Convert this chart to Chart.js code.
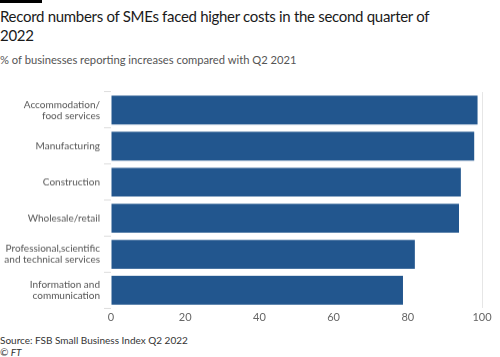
<!DOCTYPE html>
<html>
<head>
<meta charset="utf-8">
<script src="https://cdn.jsdelivr.net/npm/chart.js@4/dist/chart.umd.min.js"></script>
<style>
  html, body { margin: 0; padding: 0; background: #fff; }
  body { width: 500px; height: 357px; position: relative; overflow: hidden; font-family: Lato, sans-serif; }
  #bar { position: absolute; left: 0; top: 0; width: 42px; height: 3px; background: #000; }
  #title { position: absolute; left: 0; top: 7px; width: 460px; font-size: 15px; letter-spacing: -0.3px; line-height: 19px; color: #1a1a1a; }
  #subtitle { position: absolute; left: 0; top: 53px; font-size: 11.2px; color: #555; }
  #source { position: absolute; left: 0; top: 334px; font-size: 10px; color: #333; }
  #ft { position: absolute; left: 0; top: 346px; font-size: 10px; color: #333; font-style: italic; }
  #wrap { position: absolute; left: 0; top: 77.4px; width: 500px; height: 247.6px; }
</style>
</head>
<body>
<div id="bar"></div>
<div id="title">Record numbers of SMEs faced higher costs in the second quarter of 2022</div>
<div id="subtitle">% of businesses reporting increases compared with Q2 2021</div>
<div id="wrap"><canvas id="c"></canvas></div>
<div id="source">Source: FSB Small Business Index Q2 2022</div>
<div id="ft">© FT</div>
<script>
const categories = [
  ["Accommodation/", "food services"],
  "Manufacturing",
  "Construction",
  "Wholesale/retail",
  ["Professional,scientific", "and technical services"],
  ["Information and", "communication"]
];
const values = [98.8, 97.9, 94.3, 93.8, 81.9, 78.7];
const xTicks = [0, 20, 40, 60, 80, 100];

new Chart(document.getElementById('c'), {
  type: 'bar',
  data: {
    labels: categories,
    datasets: [{
      data: values,
      backgroundColor: '#22568e',
      borderWidth: 0,
      categoryPercentage: 1,
      barPercentage: 0.8
    }]
  },
  options: {
    indexAxis: 'y',
    responsive: true,
    maintainAspectRatio: false,
    animation: false,
    layout: { padding: { top: 0, right: 18, bottom: 0, left: 0 } },
    plugins: { legend: { display: false }, tooltip: { enabled: false } },
    scales: {
      x: {
        min: 0, max: 100,
        afterBuildTicks: (s) => { s.ticks = xTicks.map(v => ({ value: v })); },
        grid: {
          color: (ctx) => ctx.tick && ctx.tick.value === 100 ? '#e6e6e6' : 'rgba(0,0,0,0)',
          drawTicks: false
        },
        border: { display: false },
        ticks: { color: '#666', font: { size: 11, family: 'Lato, sans-serif' }, padding: 2 }
      },
      y: {
        afterFit: (s) => { s.width = 111; },
        grid: { display: true, drawOnChartArea: false, color: '#ddd', tickLength: 7 },
        border: { display: false },
        ticks: { color: '#555', font: { size: 10, family: 'Lato, sans-serif', lineHeight: 1.1 }, padding: 4 }
      }
    }
  }
});
</script>
</body>
</html>
